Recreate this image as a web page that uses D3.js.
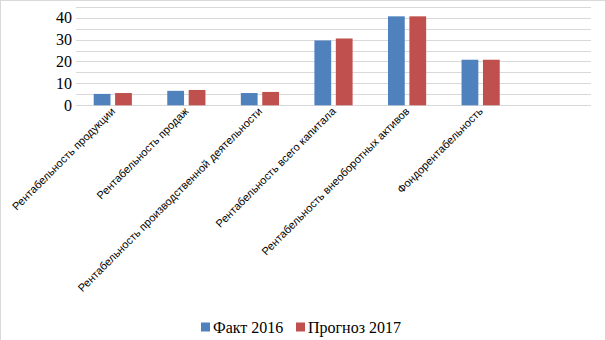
<!DOCTYPE html>
<html><head><meta charset="utf-8">
<script src="https://cdn.jsdelivr.net/npm/d3@7"></script>
<style>body{margin:0;background:#fff}svg{display:block}</style>
</head><body>
<svg id="c" width="605" height="340"></svg>
<script>
const categories = ["Рентабельность продукции","Рентабельность продаж","Рентабельность производственной деятельности","Рентабельность всего капитала","Рентабельность внеоборотных активов","Фондорентабельность",""];
const fact2016 = [5.2, 6.6, 5.6, 29.6, 40.6, 20.8, null];
const forecast2017 = [5.6, 7.0, 6.1, 30.5, 40.6, 20.8, null];
const seriesNames = ["Факт 2016","Прогноз 2017"];
const colors = ["#4F81BD","#C0504D"];
const yTicks = [0,10,20,30,40];

const svg = d3.select("#c");
svg.append("rect").attr("x",0.5).attr("y",0.5).attr("width",610).attr("height",345)
  .attr("fill","#fff").attr("stroke","#d9d9d9");

const x = d3.scaleBand().domain(d3.range(categories.length)).range([76,591]);
const y = d3.scaleLinear().domain([0,45]).range([105.3,6.7]);

// gridlines every 5
const grid = svg.append("g");
grid.selectAll("line").data(d3.range(0,46,5)).join("line")
  .attr("x1",76).attr("x2",591)
  .attr("y1",d=>Math.round(y(d))+0.5).attr("y2",d=>Math.round(y(d))+0.5)
  .attr("stroke","#d9d9d9").attr("stroke-width",1);

// y axis labels
const yAxis = d3.axisLeft(y).tickValues(yTicks).tickSize(0).tickPadding(4).tickFormat(d3.format("d"));
const yg = svg.append("g").attr("transform","translate(76,0)").call(yAxis);
yg.select(".domain").remove();
yg.selectAll("text").attr("font-family","'Liberation Serif','Times New Roman',serif")
  .attr("font-size",16).attr("fill","#000").attr("dy","0.33em");

// bars
const bw = x.bandwidth()*0.228, gap = x.bandwidth()*0.063;
const series = [fact2016, forecast2017];
series.forEach((vals,si)=>{
  svg.append("g").selectAll("rect").data(vals.map((v,i)=>({v,i})).filter(d=>d.v!=null)).join("rect")
    .attr("x",d=> x(d.i)+x.bandwidth()/2 + (si===0 ? -gap/2-bw : gap/2))
    .attr("y",d=>y(d.v)).attr("width",bw).attr("height",d=>y(0)-y(d.v))
    .attr("fill",colors[si]);
});

// x labels
const xl = svg.append("g");
xl.selectAll("text").data(categories.map((c,i)=>({c,i}))).join("text")
  .attr("transform",d=>`translate(${x(d.i)+x.bandwidth()/2+3},${112}) rotate(-45)`)
  .attr("text-anchor","end")
  .attr("font-family","'Liberation Sans',Arial,sans-serif").attr("font-size",11).attr("fill","#000")
  .attr("letter-spacing","0.05")
  .text(d=>d.c);

// legend
const legX = [201, 296];
const lg = svg.append("g");
seriesNames.forEach((n,i)=>{
  lg.append("rect").attr("x",legX[i]).attr("y",322.5).attr("width",9).attr("height",9).attr("fill",colors[i]);
  lg.append("text").attr("x",legX[i]+12).attr("y",333).attr("font-family","'Liberation Serif','Times New Roman',serif")
    .attr("font-size",16).attr("fill","#000").text(n);
});
</script>
</body></html>
